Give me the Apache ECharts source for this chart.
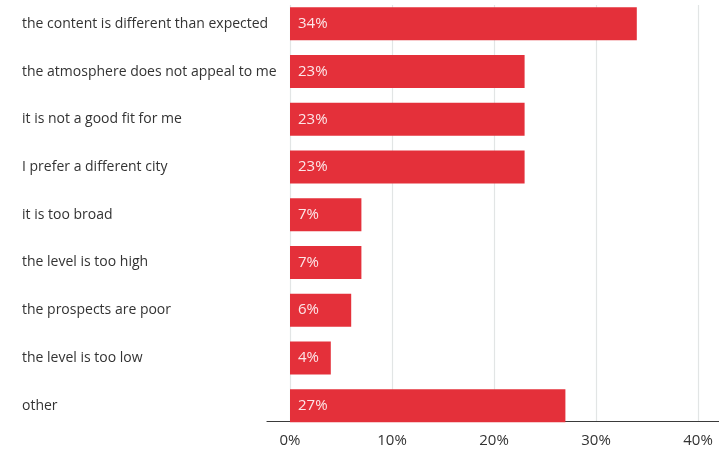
<!DOCTYPE html>
<html>
<head>
<meta charset="utf-8">
<script src="https://cdn.jsdelivr.net/npm/echarts@6/dist/echarts.min.js"></script>
<style>
  html, body { margin: 0; padding: 0; background: #fff; }
  #chart { width: 719px; height: 452px; }
</style>
</head>
<body>
<div id="chart"></div>
<script>
// Reasons given, top to bottom
const reasons = [
  'the content is different than expected',
  'the atmosphere does not appeal to me',
  'it is not a good fit for me',
  'I prefer a different city',
  'it is too broad',
  'the level is too high',
  'the prospects are poor',
  'the level is too low',
  'other'
];
// Share of respondents, in percent
const shares = [34, 23, 23, 23, 7, 7, 6, 4, 27];
// Value axis range and step
const axisMin = 0;
const axisMax = 40;
const axisStep = 10;

const FONT = '"Open Sans", "Noto Sans", sans-serif';
const chart = echarts.init(document.getElementById('chart'), null, { renderer: 'canvas' });

chart.setOption({
  backgroundColor: '#ffffff',
  animation: false,
  grid: [
    // bars and category labels
    { left: 290, right: 21, top: -2.5, height: 432, containLabel: false },
    // vertical gridlines and percentage labels
    { left: 290, right: 21, top: 5, height: 416, containLabel: false },
    // baseline running the full width
    { left: 267, right: 0, top: 5, height: 416, containLabel: false }
  ],
  xAxis: [
    { gridIndex: 0, type: 'value', min: axisMin, max: axisMax, show: false },
    {
      gridIndex: 1, type: 'value', min: axisMin, max: axisMax, interval: axisStep,
      axisLine: { show: false },
      axisTick: { show: false },
      splitLine: { show: true, lineStyle: { color: '#e2e5e5', width: 1.2 } },
      axisLabel: {
        formatter: '{value}%', color: '#333333', fontSize: 15,
        fontFamily: FONT, margin: 12
      }
    },
    {
      gridIndex: 2, type: 'value', min: 0, max: 1,
      axisLine: { show: true, lineStyle: { color: '#3a3a3a', width: 1.2 } },
      axisTick: { show: false },
      axisLabel: { show: false },
      splitLine: { show: false }
    }
  ],
  yAxis: [
    {
      gridIndex: 0, type: 'category', data: reasons, inverse: true,
      axisLine: { show: false },
      axisTick: { show: false },
      axisLabel: {
        align: 'left', margin: 268, color: '#333333', fontSize: 14,
        fontFamily: FONT
      }
    },
    { gridIndex: 1, type: 'value', show: false },
    { gridIndex: 2, type: 'value', show: false }
  ],
  series: [
    {
      type: 'bar',
      xAxisIndex: 0,
      yAxisIndex: 0,
      data: shares,
      barWidth: 33,
      itemStyle: { color: '#e4303a' },
      label: {
        show: true,
        position: 'insideLeft',
        distance: 8,
        formatter: '{c}%',
        color: '#fce6e8',
        fontSize: 15,
        fontFamily: FONT
      },
      z: 3
    }
  ]
});
</script>
</body>
</html>
